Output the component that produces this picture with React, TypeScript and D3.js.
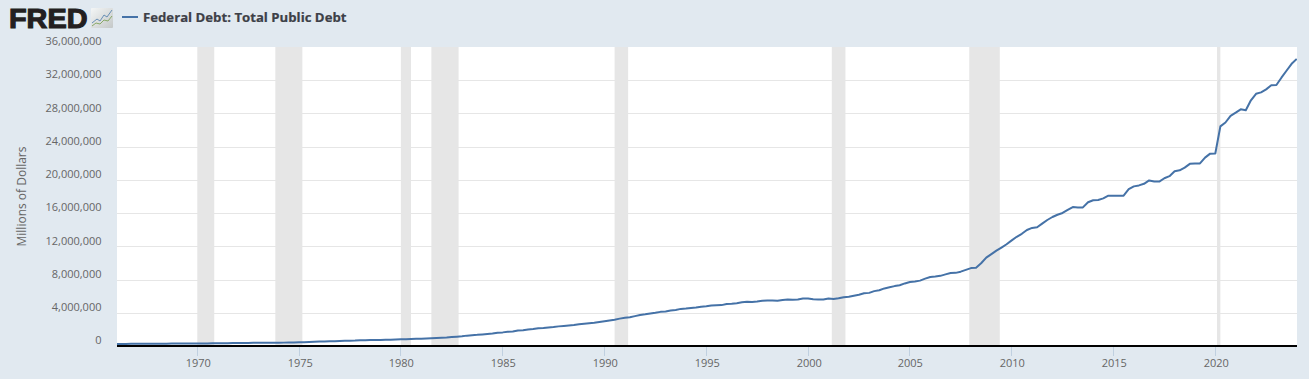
import React from "react";
import * as d3 from "d3";

const W = 1309, H = 379;
const startYear = 1966;
// Quarterly federal debt, millions of dollars (1966 Q1 onward)
const debt: number[] = [
  320000, 322000, 325000, 328000,
  331000, 334000, 338000, 344000,
  349000, 353000, 356000, 358000,
  360000, 362000, 364000, 367000,
  372000, 377000, 383000, 389000,
  394000, 400000, 412000, 424000,
  428000, 433000, 441000, 449000,
  456000, 460000, 465000, 470000,
  474000, 478000, 484000, 493000,
  512000, 533000, 554000, 577000,
  599000, 620000, 635000, 654000,
  680000, 695000, 710000, 719000,
  750000, 770000, 780000, 789000,
  800000, 812000, 827000, 845000,
  870000, 884000, 908000, 930000,
  950000, 971000, 997000, 1029000,
  1061000, 1085000, 1142000, 1197000,
  1244000, 1319000, 1377000, 1411000,
  1463000, 1512000, 1572000, 1663000,
  1710000, 1775000, 1823000, 1946000,
  1973000, 2060000, 2125000, 2215000,
  2246000, 2310000, 2350000, 2432000,
  2487000, 2547000, 2602000, 2684000,
  2740000, 2799000, 2857000, 2953000,
  3052000, 3143000, 3233000, 3364000,
  3465000, 3538000, 3665000, 3801000,
  3881000, 3984000, 4065000, 4177000,
  4231000, 4352000, 4411000, 4535000,
  4576000, 4645000, 4692000, 4800000,
  4864000, 4951000, 4974000, 4988000,
  5117000, 5161000, 5224000, 5323000,
  5380000, 5376000, 5413000, 5502000,
  5542000, 5548000, 5526000, 5614000,
  5651000, 5639000, 5656000, 5776000,
  5773000, 5685000, 5674000, 5662000,
  5773000, 5727000, 5807000, 5943000,
  6006000, 6126000, 6228000, 6405000,
  6460000, 6670000, 6783000, 6998000,
  7131000, 7274000, 7379000, 7596000,
  7776000, 7836000, 7933000, 8170000,
  8371000, 8420000, 8507000, 8680000,
  8849000, 8867000, 9008000, 9229000,
  9437000, 9492000, 10025000, 10700000,
  11127000, 11545000, 11910000, 12311000,
  12773000, 13202000, 13562000, 14025000,
  14270000, 14343000, 14790000, 15223000,
  15582000, 15856000, 16066000, 16432000,
  16772000, 16738000, 16738000, 17352000,
  17601000, 17633000, 17824000, 18141000,
  18152000, 18152000, 18153000, 18922000,
  19264000, 19381000, 19573000, 19977000,
  19846000, 19845000, 20245000, 20493000,
  21090000, 21195000, 21516000, 21974000,
  22028000, 22023000, 22719000, 23201000,
  23224000, 26477000, 26945000, 27748000,
  28133000, 28529000, 28429000, 29617000,
  30401000, 30568000, 30928000, 31419000,
  31458000, 32332000, 33167000, 34001000,
  34586000,
];
const recessions: [string, string][] = [
  ["1970-01-01", "1970-11-01"],
  ["1973-11-01", "1975-03-01"],
  ["1980-01-01", "1980-07-01"],
  ["1981-07-01", "1982-11-01"],
  ["1990-07-01", "1991-03-01"],
  ["2001-03-01", "2001-11-01"],
  ["2007-12-01", "2009-06-01"],
  ["2020-02-01", "2020-04-01"],
];
const yTicks = [0, 4e6, 8e6, 12e6, 16e6, 20e6, 24e6, 28e6, 32e6, 36e6];
const xTickYears = [1970, 1975, 1980, 1985, 1990, 1995, 2000, 2005, 2010, 2015, 2020];
const seriesName = "Federal Debt: Total Public Debt";
const yTitle = "Millions of Dollars";

const plot = { left: 117, right: 1297, top: 47, bottom: 346 };
const FONT = "'Open Sans', sans-serif";

const dateOf = (i: number) => new Date(Date.UTC(startYear + Math.floor(i / 4), (i % 4) * 3, 1));

export default function App() {
  const x = d3.scaleUtc()
    .domain([new Date(Date.UTC(1970, 0, 1)), new Date(Date.UTC(2020, 0, 1))])
    .range([197.3, 1215.3]);
  const y = d3.scaleLinear().domain([0, 36e6]).range([346.6, 47.2]);
  const line = d3.line<number>().x((_, i) => x(dateOf(i))).y((d) => y(d));
  const fmt = d3.format(",");
  const clipId = "plot-clip";

  return (
    <svg width={W} height={H} viewBox={`0 0 ${W} ${H}`}
      style={{ position: "absolute", left: 0, top: 0, display: "block", fontFamily: FONT }}>
      <defs>
        <clipPath id={clipId}>
          <rect x={plot.left} y={plot.top} width={plot.right - plot.left} height={plot.bottom - plot.top} />
        </clipPath>
        <linearGradient id="icon-bg" x1="0" y1="0" x2="1" y2="1">
          <stop offset="0" stopColor="#f4f6f6" />
          <stop offset="1" stopColor="#c4c8c8" />
        </linearGradient>
      </defs>
      <rect width={W} height={H} fill="#e1e9f0" />
      <rect x={plot.left} y={plot.top} width={plot.right - plot.left} height={plot.bottom - plot.top} fill="#ffffff" />

      {yTicks.slice(1, -1).map((t) => {
        const py = Math.floor(y(t)) + 0.5;
        return <line key={t} x1={plot.left} x2={plot.right} y1={py} y2={py} stroke="#e6e6e6" strokeWidth={1} />;
      })}

      {recessions.map(([a, b]) => {
        const x0 = x(new Date(a + "T00:00:00Z"));
        const x1 = x(new Date(b + "T00:00:00Z"));
        return <rect key={a} x={x0} y={plot.top} width={x1 - x0} height={plot.bottom - plot.top} fill="#e6e6e6" />;
      })}

      <g clipPath={`url(#${clipId})`}>
        <path d={line(debt) ?? ""} fill="none" stroke="#4572a7" strokeWidth={2} strokeLinejoin="round" />
      </g>

      <line x1={plot.left} x2={plot.right} y1={346} y2={346} stroke="#000000" strokeWidth={2} />

      {xTickYears.map((yr) => {
        const px = Math.floor(x(new Date(Date.UTC(yr, 0, 1)))) + 0.5;
        return (
          <g key={yr}>
            <line x1={px} x2={px} y1={347} y2={356} stroke="#c0d0e0" strokeWidth={1} />
            <text x={px + 0.8} y={367} textAnchor="middle" fontSize={11} fill="#666666">{yr}</text>
          </g>
        );
      })}

      {yTicks.map((t) => (
        <text key={t} x={101.5} y={y(t) - 2.2} textAnchor="end" fontSize={11} fill="#666666">{fmt(t)}</text>
      ))}

      <text transform="translate(26,196.5) rotate(-90)" textAnchor="middle" fontSize={12} fill="#666666">{yTitle}</text>

      <line x1={122} x2={138} y1={17} y2={17} stroke="#4572a7" strokeWidth={2} />
      <text x={143} y={21.5} fontSize={13.2} fontWeight={700} fill="#3d4047" stroke="#3d4047" strokeWidth={0.2}>{seriesName}</text>

      <text x={9} y={27.5} fontFamily="'Liberation Sans', sans-serif" fontSize={27} fontWeight={700}
        fill="#231f20" stroke="#231f20" strokeWidth={1.1} textLength={78.5} lengthAdjust="spacingAndGlyphs">FRED</text>
      <rect x={91} y={8} width={22} height={20} rx={1} fill="url(#icon-bg)" />
      <path d="M92 23 L97 19 L100 21 L104 15 L107 17 L112 10" fill="none" stroke="#5a86b0" strokeWidth={0.9} />
      <path d="M92 26 L96 23 L100 24 L104 20 L108 21 L112 16" fill="none" stroke="#7fa35a" strokeWidth={0.9} />
    </svg>
  );
}
